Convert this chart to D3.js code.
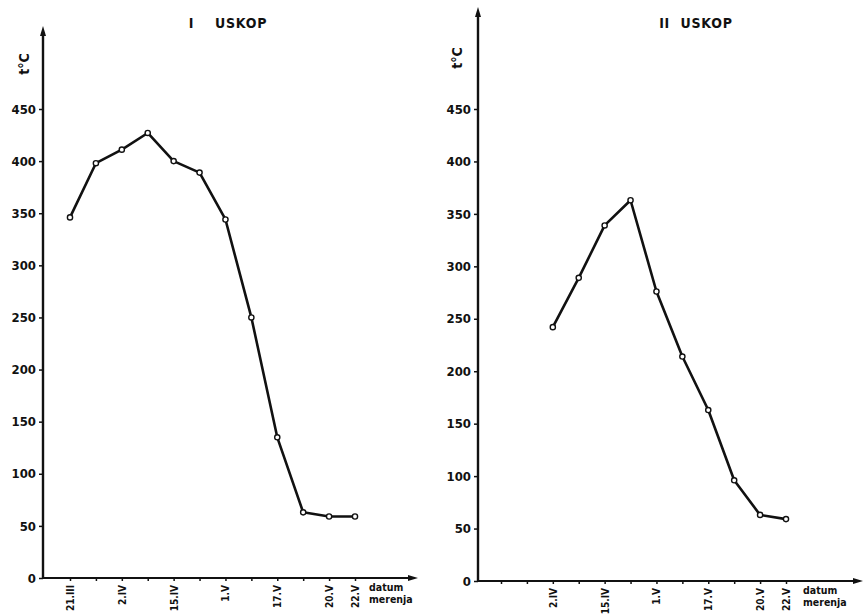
<!DOCTYPE html>
<html>
<head>
<meta charset="utf-8">
<script src="https://cdn.jsdelivr.net/npm/d3@7"></script>
<style>
  body { margin: 0; background: #fff; }
  svg text { font-family: "DejaVu Sans Condensed", "DejaVu Sans", sans-serif; fill: #111; }
</style>
</head>
<body>
<svg id="chart" width="864" height="615"></svg>
<script>
// measurement slots (datum merenja), shared by both panels
var slots = [0,1,2,3,4,5,6,7,8,9,10,11];
var slotLabelsI  = ["21.III","","2.IV","","15.IV","","1.V","","17.V","","20.V","22.V"];
var slotLabelsII = ["","","2.IV","","15.IV","","1.V","","17.V","","20.V","22.V"];

// I uskop: t °C at slots 0..11
var slotsI = [0,1,2,3,4,5,6,7,8,9,10,11];
var tempI  = [346, 398, 411, 427, 400, 389, 344, 250, 135, 63, 59, 59];

// II uskop: t °C at slots 2..11
var slotsII = [2,3,4,5,6,7,8,9,10,11];
var tempII  = [242, 289, 339, 363, 276, 214, 163, 96, 63, 59];

var yTicks = [0,50,100,150,200,250,300,350,400,450];

var svg = d3.select("#chart");

function panel(opt) {
  var x = d3.scaleLinear().domain([0, 11]).range(opt.xr);
  var y = d3.scaleLinear().domain([0, 450]).range(opt.yr);
  var g = svg.append("g");

  // y axis (ticks + labels)
  var ya = g.append("g")
      .attr("transform", "translate(" + opt.ax + ",0)")
      .call(d3.axisLeft(y).tickValues(yTicks).tickSize(4).tickSizeOuter(0).tickPadding(3));
  ya.select(".domain").remove();
  ya.selectAll("line").attr("stroke", "#111").attr("stroke-width", 1.5);
  ya.selectAll("text").attr("font-size", 13).attr("font-weight", "bold");

  // x axis (ticks + rotated labels)
  var xa = g.append("g")
      .attr("transform", "translate(0," + y(0) + ")")
      .call(d3.axisBottom(x).tickValues(slots).tickSize(3).tickSizeOuter(0)
        .tickFormat(function(d) { return opt.labels[d]; }));
  xa.select(".domain").remove();
  xa.selectAll("line").attr("stroke", "#111").attr("stroke-width", 1.5);
  xa.selectAll("text")
      .attr("font-size", 10).attr("font-weight", "bold")
      .attr("text-anchor", "end")
      .attr("transform", "rotate(-90)")
      .attr("x", -7).attr("y", 0).attr("dy", "0.35em");

  // axis lines with arrows
  g.append("line")
      .attr("x1", opt.ax).attr("x2", opt.ax)
      .attr("y1", y(0) + 1).attr("y2", opt.yTop + 6)
      .attr("stroke", "#111").attr("stroke-width", 2.4);
  g.append("path")
      .attr("d", "M" + opt.ax + "," + opt.yTop + "l-3,10l6,0z")
      .attr("fill", "#111");
  g.append("line")
      .attr("x1", opt.ax - 1).attr("x2", opt.xEnd - 6)
      .attr("y1", y(0)).attr("y2", y(0))
      .attr("stroke", "#111").attr("stroke-width", 2);
  g.append("path")
      .attr("d", "M" + opt.xEnd + "," + y(0) + "l-10,-3l0,6z")
      .attr("fill", "#111");

  // axis titles
  g.append("text")
      .attr("transform", "translate(" + opt.tx + "," + opt.ty + ") rotate(-90)")
      .attr("text-anchor", "middle")
      .attr("font-size", 14).attr("font-weight", "bold")
      .text("t°C");
  g.append("text")
      .attr("x", opt.dx).attr("y", y(0) + 13)
      .attr("font-size", 10.5).attr("font-weight", "bold")
      .text("datum");
  g.append("text")
      .attr("x", opt.dx).attr("y", y(0) + 25)
      .attr("font-size", 10.5).attr("font-weight", "bold")
      .text("merenja");

  g.append("text")
      .attr("x", opt.titleX).attr("y", 28)
      .attr("text-anchor", "middle")
      .attr("font-size", 14).attr("font-weight", "bold")
      .attr("letter-spacing", 0.8)
      .style("white-space", "pre")
      .text(opt.title);

  // data line and markers
  var pts = d3.zip(opt.xs, opt.vals);
  g.append("path")
      .datum(pts)
      .attr("fill", "none")
      .attr("stroke", "#111")
      .attr("stroke-width", 2.6)
      .attr("stroke-linejoin", "round")
      .attr("d", d3.line().x(function(d) { return x(d[0]); }).y(function(d) { return y(d[1]); }));
  g.selectAll("circle.pt")
      .data(pts)
      .enter().append("circle")
      .attr("class", "pt")
      .attr("cx", function(d) { return x(d[0]); })
      .attr("cy", function(d) { return y(d[1]); })
      .attr("r", 2.6)
      .attr("fill", "#fff")
      .attr("stroke", "#111")
      .attr("stroke-width", 1.4);
}

panel({
  xr: [70, 355], yr: [578, 109], ax: 43, yTop: 26, xEnd: 418,
  labels: slotLabelsI, xs: slotsI, vals: tempI,
  tx: 29, ty: 64, dx: 369, titleX: 228, title: "I    USKOP"
});

panel({
  xr: [501, 786], yr: [581, 109], ax: 478, yTop: 7, xEnd: 863,
  labels: slotLabelsII, xs: slotsII, vals: tempII,
  tx: 462, ty: 58, dx: 803, titleX: 696, title: "II  USKOP"
});
</script>
</body>
</html>
